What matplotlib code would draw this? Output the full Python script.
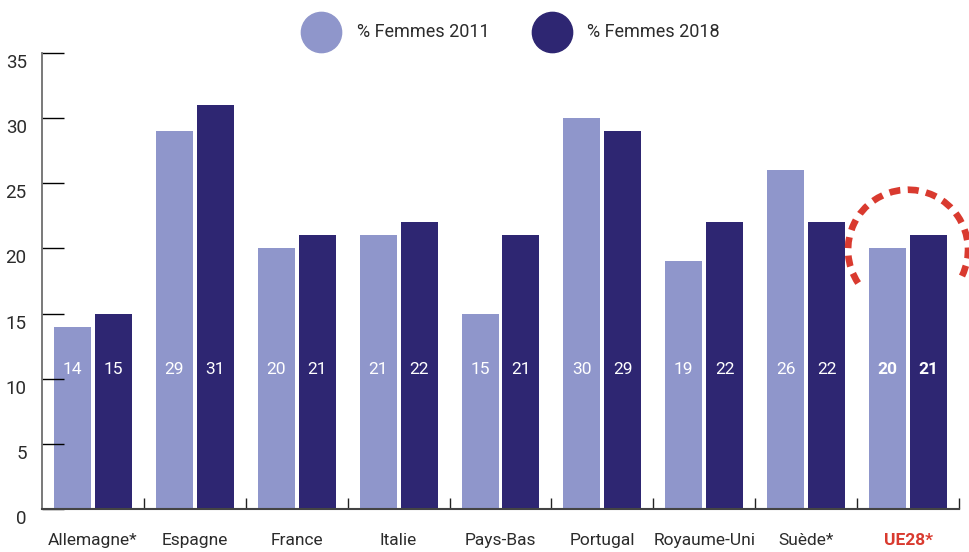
import matplotlib
matplotlib.use("Agg")
import matplotlib.pyplot as plt
from matplotlib.patches import Arc
from matplotlib.lines import Line2D
from matplotlib import transforms
import numpy as np

# data
pays = ["Allemagne*", "Espagne", "France", "Italie", "Pays-Bas",
        "Portugal", "Royaume-Uni", "Suède*", "UE28*"]
femmes_2011 = [14, 29, 20, 21, 15, 30, 19, 26, 20]
femmes_2018 = [15, 31, 21, 22, 21, 29, 22, 22, 21]
series_labels = ["% Femmes 2011", "% Femmes 2018"]
y_ticks = [0, 5, 10, 15, 20, 25, 30, 35]

c_light = "#8f96cb"
c_dark = "#2e2672"
c_red = "#d93a2f"
c_text = "#2b2b2b"

plt.rcParams["font.family"] = ["Roboto", "DejaVu Sans"]

fig = plt.figure(figsize=(9.69, 5.52), dpi=100)
ax = fig.add_axes([42 / 969, 1 - 509 / 552, (959 - 42) / 969, (509 - 53) / 552])

x = np.arange(len(pays))
w = 0.363
ax.bar(x - 0.201, femmes_2011, width=w, color=c_light)
ax.bar(x + 0.201, femmes_2018, width=w, color=c_dark)

# value labels inside the bars
for i in range(len(pays)):
    bold = "bold" if i == len(pays) - 1 else "normal"
    ax.text(x[i] - 0.201, 10.7, str(femmes_2011[i]), color="white",
            ha="center", va="center", fontsize=12.5, fontweight=bold)
    ax.text(x[i] + 0.201, 10.7, str(femmes_2018[i]), color="white",
            ha="center", va="center", fontsize=12.5, fontweight=bold)

ax.set_xlim(-0.5, len(pays) - 0.5)
ax.set_ylim(0, 35)

# y axis
ax.set_yticks(y_ticks)
ax.tick_params(axis="y", direction="in", length=16, width=1, color="black",
               labelsize=13.5, labelcolor=c_text, pad=11)
# labels sit a little below their ticks in the original
shift = transforms.ScaledTranslation(0, -0.08, fig.dpi_scale_trans)
for lab in ax.get_yticklabels():
    lab.set_transform(lab.get_transform() + shift)

# x axis: boundary ticks (major) and labels (minor)
ax.set_xticks(x + 0.5)
ax.set_xticklabels([])
ax.tick_params(axis="x", which="major", direction="in", length=8, width=1, color="#222")
ax.set_xticks(x, minor=True)
ax.set_xticklabels(pays, minor=True)
ax.tick_params(axis="x", which="minor", length=0, labelsize=12.5, labelcolor=c_text, pad=17)
lbls = ax.get_xticklabels(minor=True)
lbls[-1].set_color(c_red)
lbls[-1].set_fontweight("bold")

for s in ["top", "right"]:
    ax.spines[s].set_visible(False)
ax.spines["left"].set_color("#6e6e6e")
ax.spines["left"].set_linewidth(1.3)
ax.spines["bottom"].set_color("#444")
ax.spines["bottom"].set_linewidth(1.5)

# red dashed arc around UE28
tr = fig.dpi_scale_trans + transforms.ScaledTranslation(x[-1], 19.9, ax.transData)
arc = Arc((0, 0), 1.2, 1.2, theta1=-26, theta2=214, transform=tr,
          color=c_red, lw=4.8, linestyle=(0, (1.65, 1.12)), clip_on=False)
ax.add_patch(arc)

# legend (circles + text)
for cx, tx, col, lab in [(321, 357, c_light, series_labels[0]),
                         (552, 587, c_dark, series_labels[1])]:
    fig.add_artist(Line2D([cx / 969], [1 - 32 / 552], marker="o", markersize=29,
                          color=col, linestyle="none", transform=fig.transFigure))
    fig.text(tx / 969, 1 - 32 / 552, lab, fontsize=13, color=c_text, va="center", ha="left")

fig.savefig("out.png", dpi=100)
